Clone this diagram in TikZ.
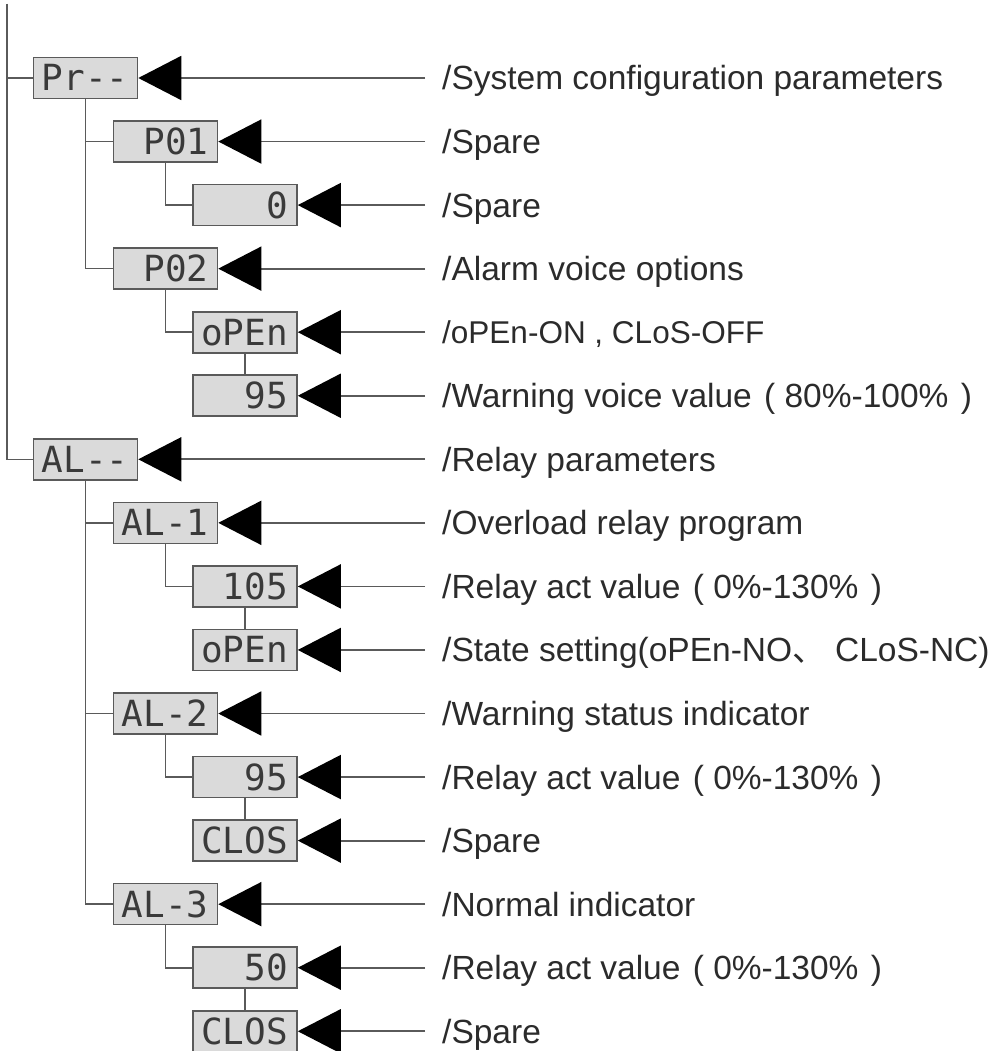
\documentclass[tikz,border=0pt]{standalone}
\usepackage{fontspec}
\setmainfont{Liberation Sans}
\newfontfamily\segfont{DejaVu Sans Mono}
\newfontfamily\cjkfont{Noto Sans CJK SC}
\usetikzlibrary{arrows.meta}
\definecolor{linegray}{HTML}{5A5A5A}
\definecolor{boxgray}{HTML}{DADADA}
\definecolor{segtext}{HTML}{3A3A3A}
\definecolor{txtgray}{HTML}{2B2B2B}
\newcommand{\sg}[1]{\makebox[86pt][r]{#1}}
\newcommand{\lp}{\hspace{3pt}(}
\newcommand{\rp}{\hspace{3pt})}
\begin{document}
\begin{tikzpicture}[x=1pt,y=-1pt,
  segbox/.style={draw=linegray, fill=boxgray, line width=1.6pt,
    minimum width=104pt, minimum height=41pt, inner xsep=9pt, inner ysep=0pt,
    text height=26pt, text depth=0pt,
    font=\segfont\fontsize{36}{36}\selectfont, text=segtext},
  lbl/.style={anchor=west, inner xsep=17pt, inner ysep=0pt,
    font=\fontsize{33.5}{33.5}\selectfont, text=txtgray,
    text height=24pt, text depth=0pt},
  smalllbl/.style={lbl, font=\fontsize{31.5}{31.5}\selectfont, text height=22.5pt},
  cn/.style={draw=linegray, line width=1.8pt,
    -{Triangle[length=43pt,width=44pt,color=black]}},
  tr/.style={draw=linegray, line width=1.6pt}
]
\useasboundingbox (0,0) rectangle (990,1051);
% boxes
\node[segbox] (b0)  at (85.5,78)      {\sg{Pr--}};
\node[segbox] (b1)  at (165.5,141.55) {\sg{P01}};
\node[segbox] (b2)  at (245,205.1)    {\sg{0}};
\node[segbox] (b3)  at (165.5,268.65) {\sg{P02}};
\node[segbox] (b4)  at (245,332.2)    {\sg{oPEn}};
\node[segbox] (b5)  at (245,395.75)   {\sg{95}};
\node[segbox] (b6)  at (85.5,459.3)   {\sg{AL--}};
\node[segbox] (b7)  at (165.5,522.85) {\sg{AL-1}};
\node[segbox] (b8)  at (245,586.4)    {\sg{105}};
\node[segbox] (b9)  at (245,649.95)   {\sg{oPEn}};
\node[segbox] (b10) at (165.5,713.5)  {\sg{AL-2}};
\node[segbox] (b11) at (245,777.05)   {\sg{95}};
\node[segbox] (b12) at (245,840.6)    {\sg{CLOS}};
\node[segbox] (b13) at (165.5,904.15) {\sg{AL-3}};
\node[segbox] (b14) at (245,967.7)    {\sg{50}};
\node[segbox] (b15) at (245,1031.25)  {\sg{CLOS}};
% labels
\node[lbl] (l0)  at (425,78)      {/System configuration parameters};
\node[lbl] (l1)  at (425,141.55)  {/Spare};
\node[lbl] (l2)  at (425,205.1)   {/Spare};
\node[lbl] (l3)  at (425,268.65)  {/Alarm voice options};
\node[smalllbl] (l4) at (425,332.2) {/oPEn-ON , CLoS-OFF};
\node[lbl] (l5)  at (425,395.75)  {/Warning voice value \lp{} 80\%-100\% \rp};
\node[lbl] (l6)  at (425,459.3)   {/Relay parameters};
\node[lbl] (l7)  at (425,522.85)  {/Overload relay program};
\node[lbl] (l8)  at (425,586.4)   {/Relay act value \lp{} 0\%-130\% \rp};
\node[lbl] (l9)  at (425,649.95)  {/State setting(oPEn-NO{\cjkfont 、} CLoS-NC)};
\node[lbl] (l10) at (425,713.5)   {/Warning status indicator};
\node[lbl] (l11) at (425,777.05)  {/Relay act value \lp{} 0\%-130\% \rp};
\node[lbl] (l12) at (425,840.6)   {/Spare};
\node[lbl] (l13) at (425,904.15)  {/Normal indicator};
\node[lbl] (l14) at (425,967.7)   {/Relay act value \lp{} 0\%-130\% \rp};
\node[lbl] (l15) at (425,1031.25) {/Spare};
% tree
\coordinate (top) at (7,4);
\draw[tr] (top) |- (b0.west);
\draw[tr] (top) |- (b6.west);
\draw[tr] (b0.south) |- (b1.west);
\draw[tr] (b0.south) |- (b3.west);
\draw[tr] (b1.south) |- (b2.west);
\draw[tr] (b3.south) |- (b4.west);
\draw[tr] (b4.south) -- (b5.north);
\draw[tr] (b6.south) |- (b7.west);
\draw[tr] (b6.south) |- (b10.west);
\draw[tr] (b6.south) |- (b13.west);
\draw[tr] (b7.south) |- (b8.west);
\draw[tr] (b8.south) -- (b9.north);
\draw[tr] (b10.south) |- (b11.west);
\draw[tr] (b11.south) -- (b12.north);
\draw[tr] (b13.south) |- (b14.west);
\draw[tr] (b14.south) -- (b15.north);
% connectors
\foreach \i in {0,...,15} { \draw[cn] (l\i.west) -- (b\i.east); }
\end{tikzpicture}
\end{document}
